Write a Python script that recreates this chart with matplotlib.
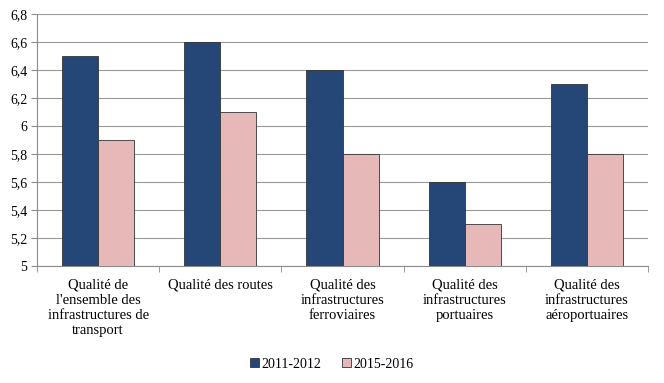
import matplotlib
matplotlib.use("Agg")
import matplotlib.pyplot as plt
from matplotlib.ticker import FixedLocator, FuncFormatter
import numpy as np

categories = [
    "Qualité de\nl'ensemble des\ninfrastructures de\ntransport",
    "Qualité des routes",
    "Qualité des\ninfrastructures\nferroviaires",
    "Qualité des\ninfrastructures\nportuaires",
    "Qualité des\ninfrastructures\naéroportuaires",
]
values_2011 = [6.5, 6.6, 6.4, 5.6, 6.3]
values_2015 = [5.9, 6.1, 5.8, 5.3, 5.8]
series_names = ["2011-2012", "2015-2016"]
y_ticks = [5.0, 5.2, 5.4, 5.6, 5.8, 6.0, 6.2, 6.4, 6.6, 6.8]

plt.rcParams["font.family"] = ["Liberation Serif", "DejaVu Serif"]
plt.rcParams["font.size"] = 10

fig = plt.figure(figsize=(6.64, 3.83), dpi=100)
ax = fig.add_axes([0.0557, 0.3055, 0.9203, 0.658])

x = np.arange(len(categories))
w = 0.295
ax.bar(x - w / 2, values_2011, w, color="#254777", edgecolor="#333333",
       linewidth=0.6, label=series_names[0], zorder=3)
ax.bar(x + w / 2, values_2015, w, color="#E6B9B8", edgecolor="#333333",
       linewidth=0.6, label=series_names[1], zorder=3)

ax.set_xlim(-0.5, len(categories) - 0.5)
ax.set_ylim(5, 6.8)
ax.set_yticks(y_ticks)
ax.yaxis.set_major_formatter(FuncFormatter(
    lambda v, p: f"{v:.1f}".rstrip("0").rstrip(".").replace(".", ",")))
ax.grid(axis="y", color="#999999", linewidth=0.8, zorder=0)

ax.set_xticks(x)
ax.set_xticklabels(categories, va="top", linespacing=1.22, fontsize=10.5)
ax.tick_params(axis="x", which="major", length=0, pad=9)
ax.xaxis.set_minor_locator(FixedLocator(np.arange(-0.5, len(categories), 1.0)))
ax.tick_params(axis="x", which="minor", length=4, color="#8c8c8c", direction="out")
ax.tick_params(axis="y", length=4, color="#8c8c8c", direction="out", pad=3)

for side in ["top", "right"]:
    ax.spines[side].set_visible(False)
for side in ["left", "bottom"]:
    ax.spines[side].set_color("#8c8c8c")
    ax.spines[side].set_linewidth(0.8)

fig.legend(loc="lower center", bbox_to_anchor=(0.5, 0.0), ncol=2, frameon=False,
           handlelength=0.6, handleheight=0.6, handletextpad=0.2, columnspacing=1.5,
           fontsize=10)

fig.savefig("out.png", dpi=100)
